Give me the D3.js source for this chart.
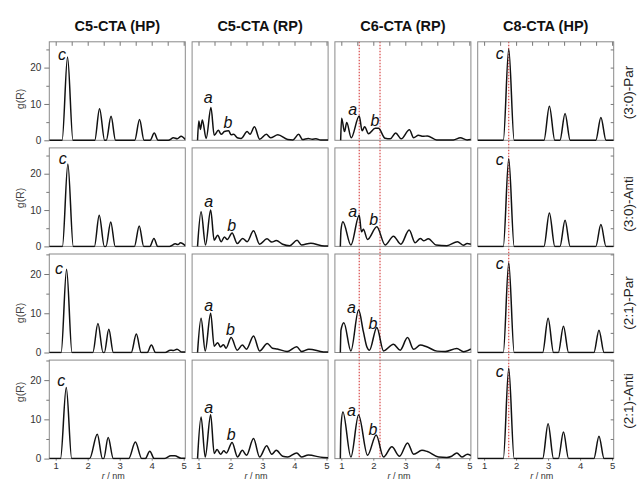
<!DOCTYPE html>
<html>
<head>
<meta charset="utf-8">
<script src="https://cdn.jsdelivr.net/npm/d3@7"></script>
<style>
body { margin: 0; background: #fff; }
svg { display: block; font-family: "Liberation Sans", Arial, sans-serif; }
</style>
</head>
<body>
<svg id="gfx" width="639" height="481"></svg>
<script>
var xDomain = [0.8, 5.05];
var columnTitles = ["C5-CTA (HP)", "C5-CTA (RP)", "C6-CTA (RP)", "C8-CTA (HP)"];
var rowLabels = ["(3:0)-Par", "(3:0)-Anti", "(2:1)-Par", "(2:1)-Anti"];
var rowMax = [27.1, 27.1, 25.1, 25.1];
var yMajor = [0, 10, 20];
var yMinor = [5, 15, 25];
var yRight = [5, 10, 15, 20, 25];
var xMajor = [1, 2, 3, 4, 5];
var xTop = [1, 1.5, 2, 2.5, 3, 3.5, 4, 4.5, 5];

// dotted reference positions (r / nm)
var guideC6 = [1.56, 2.21];
var guideC8 = [1.77];

// g(R) curves, [r, g]
var c5hp_30par = [[0.8,0],[1.2,0],[1.37,22.9],[1.54,0],[2.22,0],[2.37,8.7],[2.53,0],[2.58,0],[2.73,6.6],[2.87,0],[3.47,0],[3.62,5.7],[3.76,0],[3.95,0],[4.08,2.0],[4.2,0],[4.52,0],[4.68,0.7],[4.8,0.4],[4.92,1.1],[5.05,0.2]];
var c5hp_30anti = [[0.8,0],[1.21,0],[1.38,22.7],[1.55,0],[2.21,0],[2.36,8.6],[2.52,0],[2.57,0],[2.72,6.7],[2.86,0],[3.46,0],[3.61,5.6],[3.75,0],[3.94,0],[4.07,2.2],[4.19,0],[4.56,0],[4.74,0.7],[4.82,0.5],[4.9,1.0],[5.05,0.2]];
var c5hp_21par = [[0.8,0],[1.17,0],[1.34,21.2],[1.51,0],[2.16,0],[2.32,7.4],[2.48,0],[2.52,0],[2.66,5.9],[2.8,0],[3.36,0],[3.52,4.7],[3.67,0],[3.86,0],[3.99,1.9],[4.12,0],[4.42,0],[4.58,0.6],[4.68,0.5],[4.79,0.8],[4.95,0.1],[5.05,0.1]];
var c5hp_21anti = [[0.8,0],[1.15,0],[1.33,18.1],[1.5,0],[2.06,0],[2.3,6.2],[2.46,0],[2.5,0],[2.64,5.4],[2.8,0],[3.28,0],[3.49,4.2],[3.69,0],[3.8,0],[3.94,1.9],[4.08,0],[4.4,0],[4.6,0.7],[4.72,0.7],[4.92,0.1],[5.05,0.1]];

var c5rp_30par = [[0.97,0],[1.01,5.3],[1.06,3.0],[1.12,5.6],[1.24,0.5],[1.39,9.0],[1.49,1.4],[1.62,2.75],[1.71,1.65],[1.81,2.4],[1.94,2.6],[2.02,1.5],[2.1,1.65],[2.21,0.7],[2.33,0.5],[2.52,2.4],[2.61,1.65],[2.75,3.7],[2.91,0.3],[3.12,1.65],[3.25,0.7],[3.48,1.5],[3.79,0.2],[3.95,0.1],[4.13,1.65],[4.25,0.2],[4.43,0.5],[4.55,0.3],[4.67,0.4],[4.82,0.1],[5.05,0.1]];
var c5rp_30anti = [[0.97,0],[1.08,9.5],[1.22,0.4],[1.38,10.0],[1.49,1.7],[1.6,3.1],[1.71,1.3],[1.81,2.6],[1.9,1.9],[2.05,3.7],[2.21,0.8],[2.38,2.2],[2.52,1.3],[2.72,4.3],[2.91,0.6],[3.14,2.1],[3.29,1.2],[3.43,1.6],[3.63,0.6],[3.85,0.2],[4.08,1.7],[4.22,0.4],[4.51,0.9],[4.85,0.2],[5.05,0.1]];
var c5rp_21par = [[0.97,0],[1.08,8.7],[1.21,0.4],[1.38,10.0],[1.49,1.6],[1.6,2.5],[1.69,1.4],[1.78,2.0],[1.86,1.1],[2.02,3.8],[2.21,0.6],[2.37,1.9],[2.5,0.85],[2.72,4.2],[2.91,0.4],[3.15,2.3],[3.31,1.1],[3.46,0.9],[3.77,0.25],[4.07,1.45],[4.22,0.25],[4.45,0.85],[4.9,0.15],[5.05,0.1]];
var c5rp_21anti = [[0.97,0],[1.08,10.6],[1.21,0.4],[1.38,11.2],[1.49,1.3],[1.58,2.3],[1.69,1.1],[1.79,2.0],[1.87,1.4],[2.05,4.1],[2.22,0.4],[2.37,2.1],[2.5,0.85],[2.72,5.1],[2.91,0.4],[3.13,3.3],[3.29,1.1],[3.43,2.1],[3.63,0.6],[3.79,0.4],[4.07,1.45],[4.22,0.4],[4.43,0.9],[4.9,0.25],[5.05,0.2]];

var c6rp_30par = [[0.98,0],[1.01,6.1],[1.1,2.4],[1.17,4.9],[1.31,0.7],[1.56,6.7],[1.65,2.6],[1.73,3.7],[1.85,1.8],[2.06,3.3],[2.16,3.3],[2.37,0.55],[2.53,0.4],[2.7,2.0],[2.87,0.4],[3.13,2.9],[3.26,0.7],[3.41,1.4],[3.55,1.1],[3.69,1.2],[3.98,0.1],[4.5,0.1],[4.72,0.7],[4.93,0.1],[5.05,0.2]];
var c6rp_30anti = [[0.97,0],[0.99,4.5],[1.05,6.8],[1.3,0.4],[1.56,8.6],[1.63,4.0],[1.69,4.7],[1.82,1.9],[2.11,5.4],[2.37,0.4],[2.63,2.8],[2.86,0.6],[3.12,4.5],[3.31,1.0],[3.47,2.2],[3.57,1.55],[3.72,2.1],[3.96,0.4],[4.3,0.2],[4.63,1.3],[4.82,0.3],[4.93,0.8],[5.05,0.6]];
var c6rp_21par = [[0.97,0],[0.99,5.7],[1.08,7.6],[1.3,0.4],[1.54,10.8],[1.69,5.3],[1.8,1.4],[1.88,0.6],[2.11,6.4],[2.32,0.4],[2.63,2.1],[2.84,0.6],[3.07,3.8],[3.26,0.8],[3.47,1.9],[3.67,1.45],[3.99,0.35],[4.25,0.25],[4.61,1.0],[4.82,0.2],[5.05,0.9]];
var c6rp_21anti = [[0.97,0],[0.99,8.0],[1.05,11.9],[1.3,0.4],[1.54,11.1],[1.82,0.85],[2.09,6.0],[2.32,0.4],[2.58,3.0],[2.82,0.6],[3.07,4.0],[3.26,1.1],[3.52,2.1],[3.69,1.8],[4.04,0.4],[4.3,0.3],[4.45,0.6],[4.61,1.45],[4.77,0.4],[4.94,1.1],[5.05,0.8]];

var c8hp_30par = [[0.8,0],[1.6,0],[1.77,25.1],[1.94,0],[2.87,0],[3.04,9.4],[3.21,0],[3.37,0],[3.53,7.4],[3.69,0],[4.49,0],[4.65,6.3],[4.81,0],[5.05,0]];
var c8hp_30anti = [[0.8,0],[1.6,0],[1.77,24.1],[1.94,0],[2.87,0],[3.04,9.2],[3.21,0],[3.37,0],[3.53,7.2],[3.69,0],[4.49,0],[4.65,6.0],[4.81,0],[5.05,0]];
var c8hp_21par = [[0.8,0],[1.6,0],[1.77,22.9],[1.94,0],[2.83,0],[3.0,8.7],[3.17,0],[3.32,0],[3.48,6.7],[3.64,0],[4.43,0],[4.59,5.7],[4.75,0],[5.05,0]];
var c8hp_21anti = [[0.8,0],[1.6,0],[1.77,23.0],[1.94,0],[2.83,0],[3.0,8.9],[3.17,0],[3.32,0],[3.48,6.8],[3.64,0],[4.43,0],[4.59,5.7],[4.75,0],[5.05,0]];

// peak letters, [r, g] of the text baseline centre, one per row
var labelC5HP_c = [[1.2,22.1],[1.22,22.7],[1.1,20.0],[1.17,18.4]];
var labelC5RP_a = [[1.3,10.2],[1.32,10.8],[1.32,10.6],[1.32,11.7]];
var labelC5RP_b = [[1.92,3.3],[2.04,4.3],[2.0,4.4],[2.02,4.8]];
var labelC6RP_a = [[1.36,7.0],[1.36,8.1],[1.32,10.1],[1.32,10.9]];
var labelC6RP_b = [[2.05,3.9],[2.01,5.8],[1.99,6.1],[1.99,5.9]];
var labelC8HP_c = [[1.49,22.3],[1.49,22.3],[1.49,21.4],[1.49,20.8]];

var chart = {};

function initialise() {
    chart = {
        left: 49.3,
        top: 41.8,
        panelW: 136,
        panelH: 98.5,
        stepX: 142.8,
        stepY: 106.1,
        gLabelY: [99, 198, 313, 392],
        rowLabelY: [92.5, 204, 303, 401]
    };
    chart.svg = d3.select("#gfx");
    chart.x = d3.scaleLinear().domain(xDomain).range([0, chart.panelW]);
    chart.curves = [
        [c5hp_30par, c5rp_30par, c6rp_30par, c8hp_30par],
        [c5hp_30anti, c5rp_30anti, c6rp_30anti, c8hp_30anti],
        [c5hp_21par, c5rp_21par, c6rp_21par, c8hp_21par],
        [c5hp_21anti, c5rp_21anti, c6rp_21anti, c8hp_21anti]
    ];
    chart.notes = [
        {col: 0, text: "c", pos: labelC5HP_c},
        {col: 1, text: "a", pos: labelC5RP_a},
        {col: 1, text: "b", pos: labelC5RP_b},
        {col: 2, text: "a", pos: labelC6RP_a},
        {col: 2, text: "b", pos: labelC6RP_b},
        {col: 3, text: "c", pos: labelC8HP_c}
    ];
    chart.guides = [{col: 2, r: guideC6}, {col: 3, r: guideC8}];

    drawTitles();
    drawGuides();
    for (var row = 0; row < 4; row++) {
        for (var col = 0; col < 4; col++) {
            drawPanel(row, col);
        }
    }
}

function colX(col) { return chart.left + col * chart.stepX; }
function rowY(row) { return chart.top + row * chart.stepY; }

function styleAxis(g) {
    g.select(".domain").remove();
    g.selectAll(".tick line").attr("stroke", "#777");
    g.selectAll(".tick text")
        .attr("font-family", "Liberation Sans, Arial, sans-serif")
        .attr("font-size", 10)
        .attr("fill", "#333");
}

function drawTitles() {
    var svg = chart.svg;
    svg.selectAll("text.title").data(columnTitles).enter()
        .append("text").attr("class", "title")
        .attr("x", (d, i) => colX(i) + chart.panelW / 2)
        .attr("y", 30.5)
        .attr("text-anchor", "middle")
        .attr("font-weight", "bold")
        .attr("font-size", 14.5)
        .attr("fill", "#111")
        .text(d => d);

    svg.selectAll("text.rowlabel").data(rowLabels).enter()
        .append("text").attr("class", "rowlabel")
        .attr("transform", (d, i) => "translate(633," + chart.rowLabelY[i] + ") rotate(-90)")
        .attr("text-anchor", "middle")
        .attr("font-size", 13.5)
        .attr("fill", "#222")
        .text(d => d);

    svg.selectAll("text.ylabel").data(rowLabels).enter()
        .append("text").attr("class", "ylabel")
        .attr("transform", (d, i) => "translate(23.5," + chart.gLabelY[i] + ") rotate(-90)")
        .attr("text-anchor", "middle")
        .attr("font-size", 10.5)
        .attr("fill", "#444")
        .text("g(R)");

    var xl = svg.selectAll("text.xlabel").data(columnTitles).enter()
        .append("text").attr("class", "xlabel")
        .attr("x", (d, i) => colX(i) + chart.panelW / 2 - 4)
        .attr("y", 479.3)
        .attr("text-anchor", "middle")
        .attr("font-size", 9)
        .attr("fill", "#333");
    xl.append("tspan").attr("font-style", "italic").text("r");
    xl.append("tspan").text(" / nm");
}

function drawGuides() {
    var top = rowY(0), bottom = rowY(3) + chart.panelH;
    chart.guides.forEach(function(gd) {
        chart.svg.selectAll(null).data(gd.r).enter()
            .append("line")
            .attr("x1", d => colX(gd.col) + chart.x(d))
            .attr("x2", d => colX(gd.col) + chart.x(d))
            .attr("y1", top)
            .attr("y2", bottom)
            .attr("stroke", "#d43a3a")
            .attr("stroke-width", 1.1)
            .attr("stroke-dasharray", "1.5,1.5");
    });
}

function drawPanel(row, col) {
    var x = chart.x;
    var y = d3.scaleLinear().domain([0, rowMax[row]]).range([chart.panelH, 0]);
    var g = chart.svg.append("g")
        .attr("transform", "translate(" + colX(col) + "," + rowY(row) + ")");

    var clipId = "clip-" + row + "-" + col;
    g.append("clipPath").attr("id", clipId)
        .append("rect").attr("x", 0).attr("y", -1)
        .attr("width", chart.panelW).attr("height", chart.panelH + 2);

    g.append("rect")
        .attr("width", chart.panelW).attr("height", chart.panelH)
        .attr("fill", "none").attr("stroke", "#8a8a8a").attr("stroke-width", 1);

    if (col === 0) {
        g.append("g").call(d3.axisLeft(y).tickValues(yMajor).tickSize(5).tickPadding(3).tickFormat(d3.format("d"))).call(styleAxis);
        g.append("g").call(d3.axisLeft(y).tickValues(yMinor).tickSize(3).tickFormat("")).call(styleAxis);
    }
    if (col === 3) {
        g.append("g").attr("transform", "translate(" + chart.panelW + ",0)")
            .call(d3.axisRight(y).tickValues(yRight).tickSize(-3).tickFormat("")).call(styleAxis);
    }
    if (row === 0) {
        g.append("g").call(d3.axisTop(x).tickValues(xTop).tickSize(-4).tickFormat("")).call(styleAxis);
    }
    if (row === 3) {
        var bx = g.append("g").attr("transform", "translate(0," + chart.panelH + ")")
            .call(d3.axisBottom(x).tickValues(xMajor).tickSize(2).tickPadding(2).tickFormat(d3.format("d"))).call(styleAxis);
        bx.selectAll(".tick text").attr("font-size", 9.5);
    }

    var line = d3.line()
        .x(d => x(d[0]))
        .y(d => y(d[1]))
        .curve(d3.curveMonotoneX);

    g.append("path")
        .datum(chart.curves[row][col])
        .attr("clip-path", "url(#" + clipId + ")")
        .attr("fill", "none")
        .attr("stroke", "#111")
        .attr("stroke-width", 1.5)
        .attr("stroke-linejoin", "round")
        .attr("d", line);

    chart.notes.filter(n => n.col === col).forEach(function(n) {
        g.append("text")
            .attr("x", x(n.pos[row][0]))
            .attr("y", y(n.pos[row][1]))
            .attr("text-anchor", "middle")
            .attr("font-style", "italic")
            .attr("font-size", 16)
            .attr("fill", "#111")
            .text(n.text);
    });
}

initialise();
</script>
</body>
</html>
